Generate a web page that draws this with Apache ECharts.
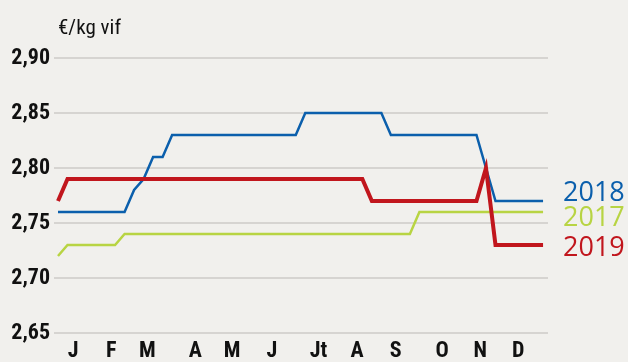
<!DOCTYPE html>
<html>
<head>
<meta charset="utf-8">
<script src="https://cdn.jsdelivr.net/npm/echarts@6/dist/echarts.min.js"></script>
<style>
  html, body { margin: 0; padding: 0; background: #f1f0ed; }
  #chart { width: 628px; height: 362px; }
</style>
</head>
<body>
<div id="chart"></div>
<script>
// Weekly live-weight price, €/kg vif, weeks 1..52
const weeks = Array.from({ length: 52 }, (_, i) => i);

const prices2017 = [
  2.72, 2.73, 2.73, 2.73, 2.73, 2.73, 2.73, 2.74, 2.74, 2.74,
  2.74, 2.74, 2.74, 2.74, 2.74, 2.74, 2.74, 2.74, 2.74, 2.74,
  2.74, 2.74, 2.74, 2.74, 2.74, 2.74, 2.74, 2.74, 2.74, 2.74,
  2.74, 2.74, 2.74, 2.74, 2.74, 2.74, 2.74, 2.74, 2.76, 2.76,
  2.76, 2.76, 2.76, 2.76, 2.76, 2.76, 2.76, 2.76, 2.76, 2.76,
  2.76, 2.76
];
const prices2018 = [
  2.76, 2.76, 2.76, 2.76, 2.76, 2.76, 2.76, 2.76, 2.78, 2.79,
  2.81, 2.81, 2.83, 2.83, 2.83, 2.83, 2.83, 2.83, 2.83, 2.83,
  2.83, 2.83, 2.83, 2.83, 2.83, 2.83, 2.85, 2.85, 2.85, 2.85,
  2.85, 2.85, 2.85, 2.85, 2.85, 2.83, 2.83, 2.83, 2.83, 2.83,
  2.83, 2.83, 2.83, 2.83, 2.83, 2.80, 2.77, 2.77, 2.77, 2.77,
  2.77, 2.77
];
const prices2019 = [
  2.77, 2.79, 2.79, 2.79, 2.79, 2.79, 2.79, 2.79, 2.79, 2.79,
  2.79, 2.79, 2.79, 2.79, 2.79, 2.79, 2.79, 2.79, 2.79, 2.79,
  2.79, 2.79, 2.79, 2.79, 2.79, 2.79, 2.79, 2.79, 2.79, 2.79,
  2.79, 2.79, 2.79, 2.77, 2.77, 2.77, 2.77, 2.77, 2.77, 2.77,
  2.77, 2.77, 2.77, 2.77, 2.77, 2.80, 2.73, 2.73, 2.73, 2.73,
  2.73, 2.73
];

// Month initials and where they sit along the week scale
const monthLabels = ['J', 'F', 'M', 'A', 'M', 'J', 'Jt', 'A', 'S', 'O', 'N', 'D'];
const monthPositions = [1.6, 5.6, 9.4, 14.45, 18.3, 22.5, 27.4, 31.45, 35.5, 40.4, 44.4, 48.4];

const yTicks = [2.65, 2.70, 2.75, 2.80, 2.85, 2.90];

// Condensed face for the axis text
const narrowFamily = '"Roboto Condensed", "Open Sans Condensed", sans-serif';

function pairs(values) {
  return weeks.map((w, i) => [w, values[i]]);
}

function lineSeries(name, values, color, width, offsetY) {
  return {
    name: name,
    type: 'line',
    data: pairs(values),
    symbol: 'none',
    animation: false,
    lineStyle: { color: color, width: width, join: 'miter' },
    endLabel: {
      show: true,
      formatter: '{a}',
      color: color,
      fontFamily: '"Open Sans", sans-serif',
      fontSize: 27,
      distance: 20,
      offset: [0, offsetY]
    }
  };
}

const chart = echarts.init(document.getElementById('chart'), null, { renderer: 'canvas' });

chart.setOption({
  backgroundColor: '#f1f0ed',
  animation: false,
  title: {
    text: '€/kg vif',
    left: 58,
    top: 18,
    padding: 0,
    textStyle: {
      fontFamily: narrowFamily,
      fontWeight: 'normal',
      fontSize: 21,
      color: '#111'
    }
  },
  grid: { left: 54, right: 80, top: 58, bottom: 28, containLabel: false },
  xAxis: {
    type: 'value',
    min: -0.42,
    max: 51.52,
    axisLine: { show: false },
    axisTick: { show: false },
    splitLine: { show: false },
    axisLabel: {
      customValues: monthPositions,
      formatter: (v) => monthLabels[monthPositions.indexOf(v)] || '',
      margin: 7,
      fontFamily: narrowFamily,
      fontWeight: 'bold',
      fontSize: 22,
      color: '#111'
    }
  },
  yAxis: {
    type: 'value',
    min: yTicks[0],
    max: yTicks[yTicks.length - 1],
    interval: 0.05,
    axisLine: { show: false },
    axisTick: { show: false },
    splitLine: { lineStyle: { color: '#d6d4d1', width: 2 } },
    axisLabel: {
      margin: 4,
      padding: [0, 0, 8, 0],
      formatter: (v) => v.toFixed(2).replace('.', ','),
      fontFamily: narrowFamily,
      fontWeight: 'bold',
      fontSize: 22,
      color: '#111'
    }
  },
  series: [
    lineSeries('2017', prices2017, '#b8d443', 2.5, 6),
    lineSeries('2018', prices2018, '#0b5fac', 2.5, -8),
    lineSeries('2019', prices2019, '#c1161d', 4, 3)
  ]
});
</script>
</body>
</html>
